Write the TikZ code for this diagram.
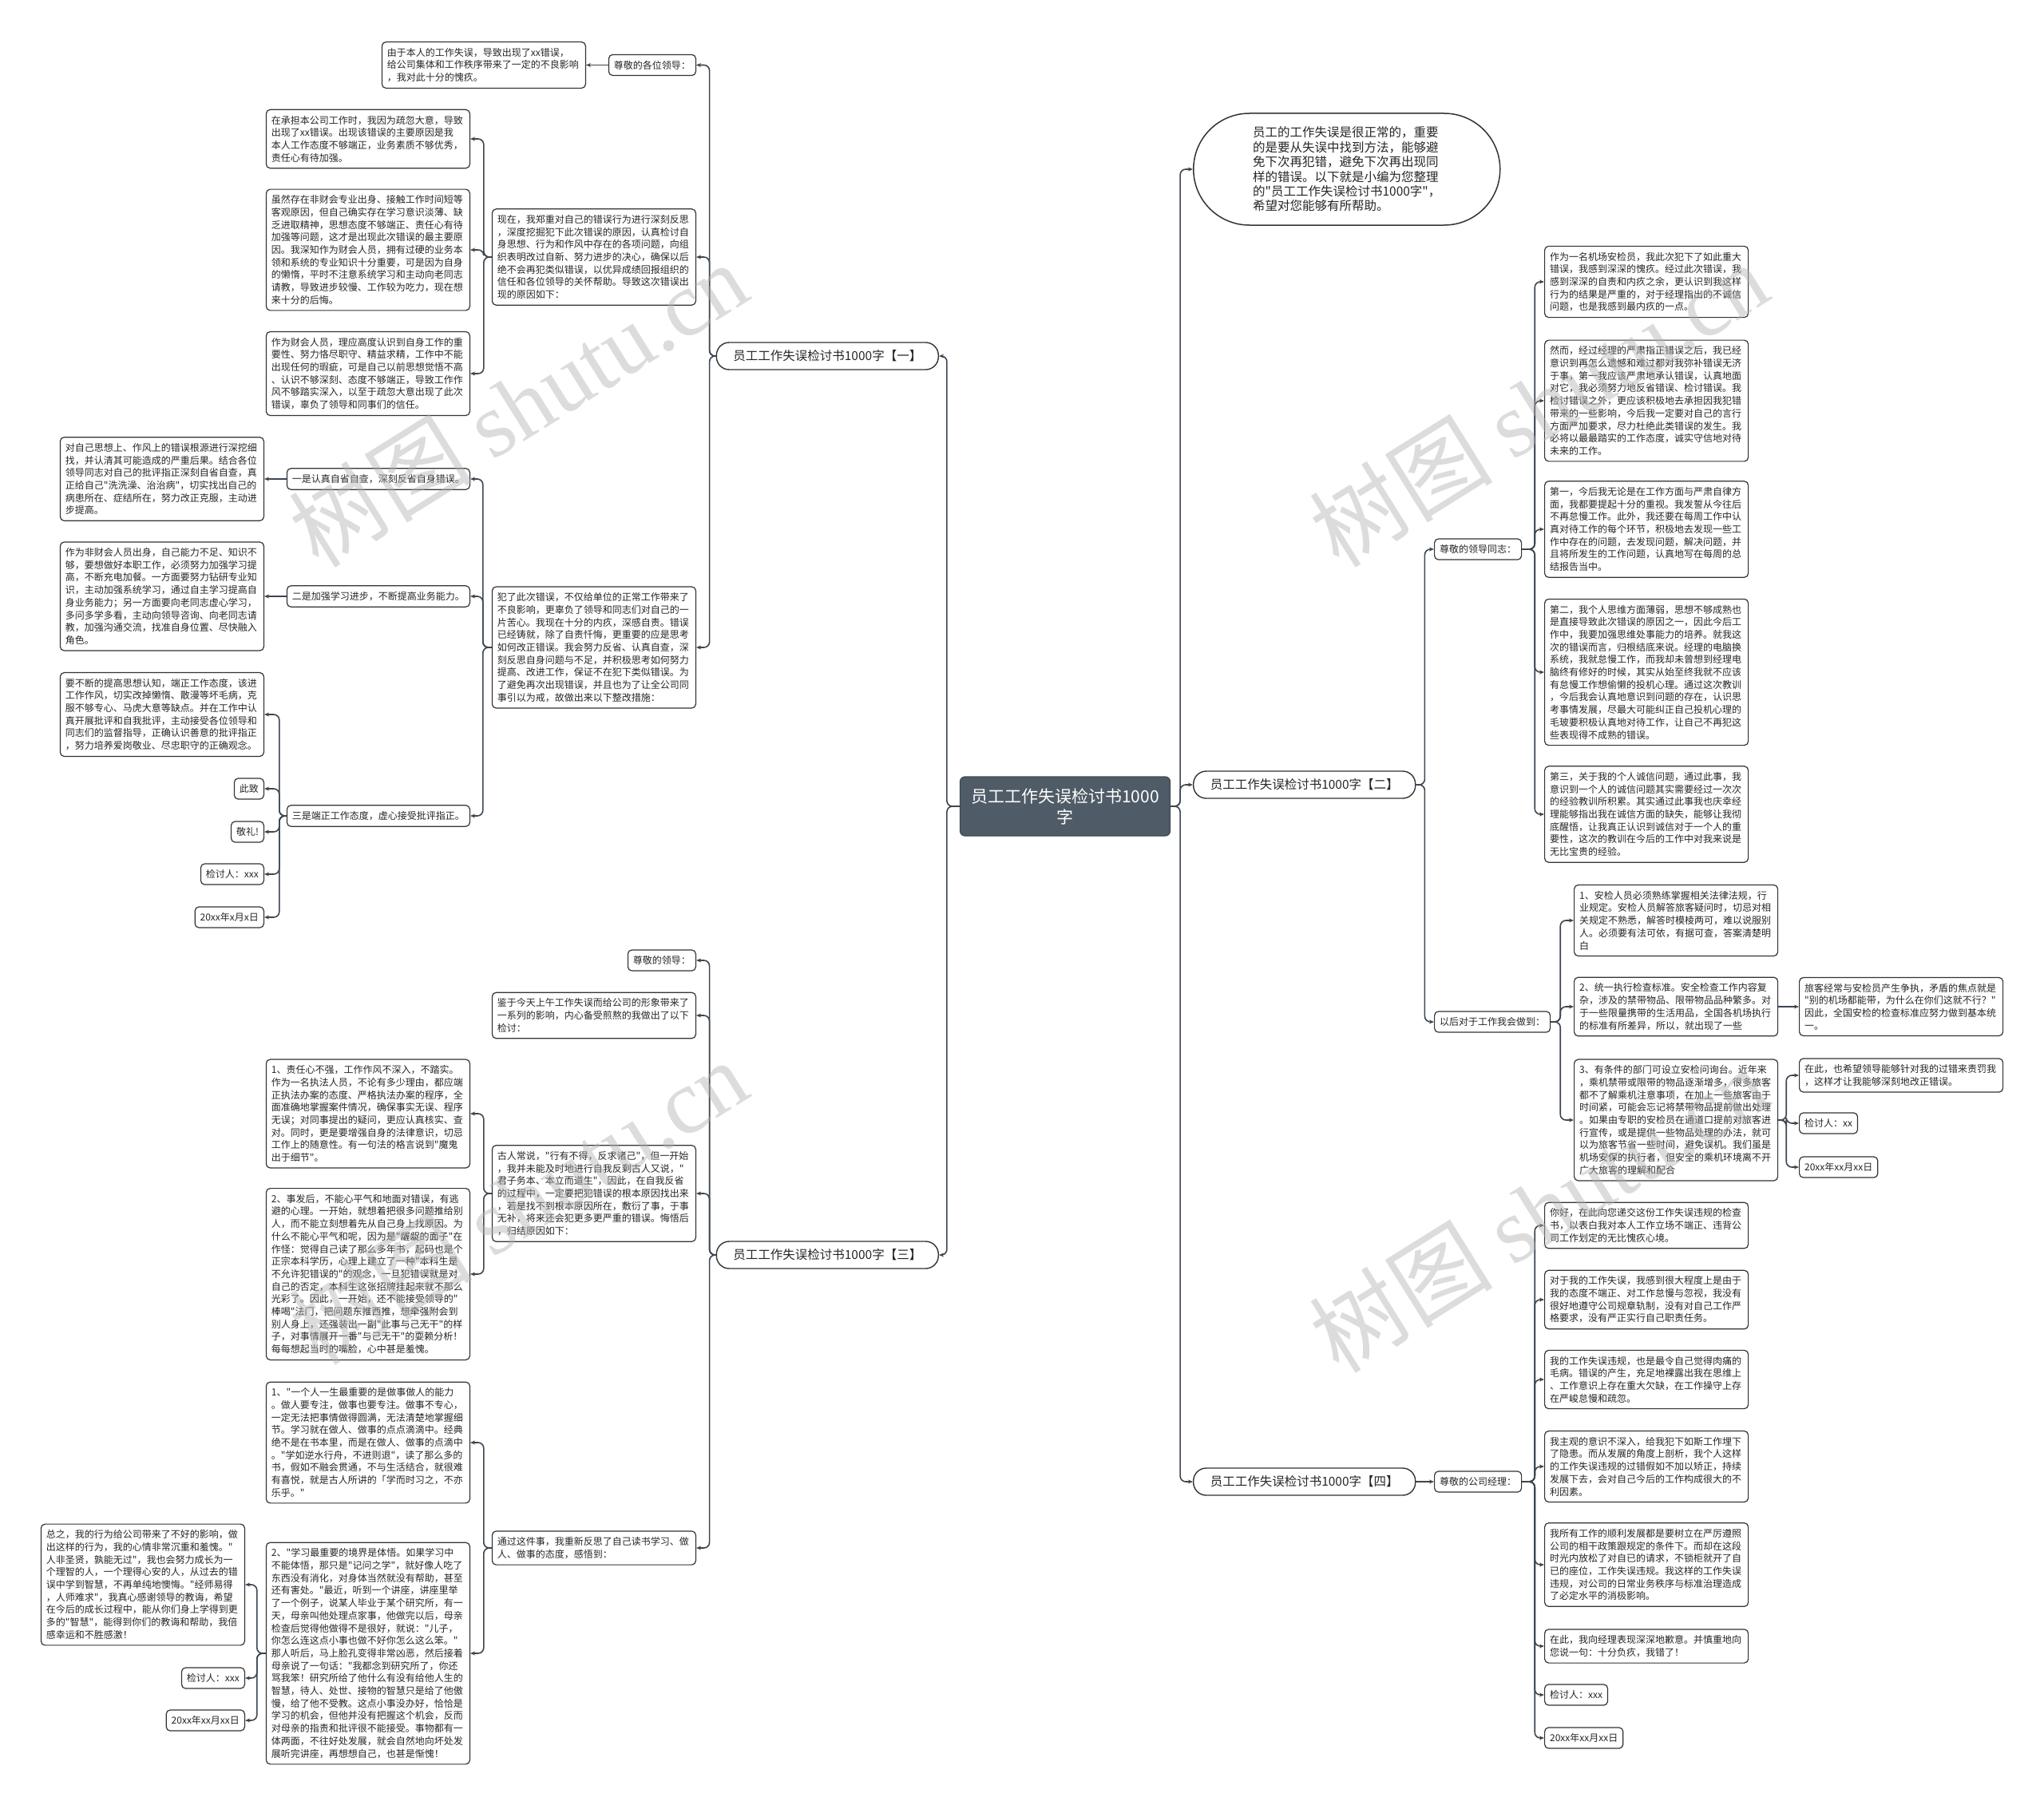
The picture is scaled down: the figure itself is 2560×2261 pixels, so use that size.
\documentclass[tikz,border=0pt]{standalone}
\usepackage{fontspec}
\setmainfont{Noto Sans CJK SC}
\newfontfamily\wmlatin{Liberation Serif}
\usetikzlibrary{arrows.meta}
\definecolor{lc}{HTML}{3C4650}
\definecolor{bc}{HTML}{333333}
\definecolor{cfill}{HTML}{4F5B66}
\font\boxfnt="Noto Sans CJK SC" at 12pt
\font\introfnt="Noto Sans CJK SC" at 15.5pt
\newcommand\boxfont{\boxfnt\baselineskip=15.7pt\relax}
\newcommand\branchfont{\fontsize{15.5}{18.5}\selectfont}
\newcommand\introfont{\introfnt\baselineskip=18.4pt\relax}
\newcommand\cenfont{\fontsize{21}{26}\selectfont}
\tikzset{
  conn/.style={draw=lc, line width=1.6pt, rounded corners=7pt, -{Stealth[length=6pt,width=5pt]}},
  tbox/.style={draw=bc, line width=1.2pt, rounded corners=5pt, fill=white, text width=242pt, align=left, inner xsep=6.5pt, inner ysep=7.5pt, font=\boxfont, text=black!85},
  lbl/.style={draw=bc, line width=1.2pt, rounded corners=5pt, fill=white, inner xsep=6.5pt, inner ysep=7.5pt, font=\boxfont, text=black!85},
  branch/.style={draw=bc, line width=1.4pt, rounded corners=16pt, fill=white, minimum width=278pt, minimum height=34pt, inner sep=2pt, font=\branchfont, text=black!85},
  central/.style={draw=cfill!80!black, line width=1.2pt, rounded corners=6pt, fill=cfill, minimum width=263pt, minimum height=74pt, align=center, font=\cenfont, text=white},
  intro/.style={draw=bc, line width=1.5pt, rounded corners=70pt, fill=white, minimum width=384pt, minimum height=140pt, align=left, font=\introfont, text=black!85},
  wm/.style={text=gray!60, opacity=0.45, rotate=32, font=\fontsize{115}{120}\selectfont}
}
\begin{document}
\begin{tikzpicture}[x=1pt,y=-1pt]
\useasboundingbox (0,0) rectangle (2560,2261);
\fill[white] (0,0) rectangle (2560,2261);

% central
\node[central] (cen) at (1334,1010) {员工工作失误检讨书1000\\字};

% branches
\node[branch, anchor=east] (b1) at (1176,446) {员工工作失误检讨书1000字【一】};
\node[branch, anchor=east] (b3) at (1176,1572) {员工工作失误检讨书1000字【三】};
\node[intro, anchor=west] (intro) at (1494,212) {员工的工作失误是很正常的，重要\\的是要从失误中找到方法，能够避\\免下次再犯错，避免下次再出现同\\样的错误。以下就是小编为您整理\\的"员工工作失误检讨书1000字"，\\希望对您能够有所帮助。};
\node[branch, anchor=west] (b2) at (1494,983) {员工工作失误检讨书1000字【二】};
\node[branch, anchor=west] (b4) at (1494,1856) {员工工作失误检讨书1000字【四】};

% ---------- branch 1 ----------
\node[lbl, anchor=east] (l1) at (872,81.5) {尊敬的各位领导：};
\node[tbox, anchor=east] (a) at (734,81.5) {由于本人的工作失误，导致出现了xx错误，\\给公司集体和工作秩序带来了一定的不良影响\\，我对此十分的愧疚。};
\node[tbox, anchor=east] (e) at (872,322) {现在，我郑重对自己的错误行为进行深刻反思\\，深度挖掘犯下此次错误的原因，认真检讨自\\身思想、行为和作风中存在的各项问题，向组\\织表明改过自新、努力进步的决心，确保以后\\绝不会再犯类似错误，以优异成绩回报组织的\\信任和各位领导的关怀帮助。导致这次错误出\\现的原因如下：};
\node[tbox, anchor=east] (b) at (589,174) {在承担本公司工作时，我因为疏忽大意，导致\\出现了xx错误。出现该错误的主要原因是我\\本人工作态度不够端正，业务素质不够优秀，\\责任心有待加强。};
\node[tbox, anchor=east] (c) at (589,313) {虽然存在非财会专业出身、接触工作时间短等\\客观原因，但自己确实存在学习意识淡薄、缺\\乏进取精神，思想态度不够端正、责任心有待\\加强等问题，这才是出现此次错误的最主要原\\因。我深知作为财会人员，拥有过硬的业务本\\领和系统的专业知识十分重要，可是因为自身\\的懒惰，平时不注意系统学习和主动向老同志\\请教，导致进步较慢、工作较为吃力，现在想\\来十分的后悔。};
\node[tbox, anchor=east] (d) at (589,468) {作为财会人员，理应高度认识到自身工作的重\\要性、努力恪尽职守、精益求精，工作中不能\\出现任何的瑕疵，可是自己以前思想觉悟不高\\、认识不够深刻、态度不够端正，导致工作作\\风不够踏实深入，以至于疏忽大意出现了此次\\错误，辜负了领导和同事们的信任。};
\node[tbox, anchor=east] (i) at (872,811) {犯了此次错误，不仅给单位的正常工作带来了\\不良影响，更辜负了领导和同志们对自己的一\\片苦心。我现在十分的内疚，深感自责。错误\\已经铸就，除了自责忏悔，更重要的应是思考\\如何改正错误。我会努力反省、认真自查，深\\刻反思自身问题与不足，并积极思考如何努力\\提高、改进工作，保证不在犯下类似错误。为\\了避免再次出现错误，并且也为了让全公司同\\事引以为戒，故做出来以下整改措施：};
\node[lbl, anchor=east] (yi) at (589,600) {一是认真自省自查，深刻反省自身错误。};
\node[tbox, anchor=east] (f) at (331,600) {对自己思想上、作风上的错误根源进行深挖细\\找，并认清其可能造成的严重后果。结合各位\\领导同志对自己的批评指正深刻自省自查，真\\正给自己"洗洗澡、治治病"，切实找出自己的\\病患所在、症结所在，努力改正克服，主动进\\步提高。};
\node[lbl, anchor=east] (er) at (589,747) {二是加强学习进步，不断提高业务能力。};
\node[tbox, anchor=east] (g) at (331,747) {作为非财会人员出身，自己能力不足、知识不\\够，要想做好本职工作，必须努力加强学习提\\高，不断充电加餐。一方面要努力钻研专业知\\识，主动加强系统学习，通过自主学习提高自\\身业务能力；另一方面要向老同志虚心学习，\\多问多学多看，主动向领导咨询、向老同志请\\教，加强沟通交流，找准自身位置、尽快融入\\角色。};
\node[lbl, anchor=east] (san) at (589,1022) {三是端正工作态度，虚心接受批评指正。};
\node[tbox, anchor=east] (h) at (331,895) {要不断的提高思想认知，端正工作态度，该进\\工作作风，切实改掉懒惰、散漫等坏毛病，克\\服不够专心、马虎大意等缺点。并在工作中认\\真开展批评和自我批评，主动接受各位领导和\\同志们的监督指导，正确认识善意的批评指正\\，努力培养爱岗敬业、尽忠职守的正确观念。};
\node[lbl, anchor=east] (cz) at (331,988) {此致};
\node[lbl, anchor=east] (jl) at (331,1042) {敬礼!};
\node[lbl, anchor=east] (jt1) at (331,1095) {检讨人：xxx};
\node[lbl, anchor=east] (dt1) at (331,1149) {20xx年x月x日};

% ---------- branch 3 ----------
\node[lbl, anchor=east] (l3) at (872,1203) {尊敬的领导：};
\node[tbox, anchor=east] (j) at (872,1272) {鉴于今天上午工作失误而给公司的形象带来了\\一系列的影响，内心备受煎熬的我做出了以下\\检讨：};
\node[tbox, anchor=east] (m) at (872,1495) {古人常说，"行有不得，反求诸己"，但一开始\\，我并未能及时地进行自我反剩古人又说，"\\君子务本、本立而道生"，因此，在自我反省\\的过程中，一定要把犯错误的根本原因找出来\\，若是找不到根本原因所在，敷衍了事，于事\\无补，将来还会犯更多更严重的错误。悔悟后\\，归结原因如下：};
\node[tbox, anchor=east] (k) at (589,1395) {1、责任心不强，工作作风不深入，不踏实。\\作为一名执法人员，不论有多少理由，都应端\\正执法办案的态度、严格执法办案的程序，全\\面准确地掌握案件情况，确保事实无误、程序\\无误；对同事提出的疑问，更应认真核实、查\\对。同时，更是要增强自身的法律意识，切忌\\工作上的随意性。有一句法的格言说到"魔鬼\\出于细节"。};
\node[tbox, anchor=east] (n) at (589,1596) {2、事发后，不能心平气和地面对错误，有逃\\避的心理。一开始，就想着把很多问题推给别\\人，而不能立刻想着先从自己身上找原因。为\\什么不能心平气和呢，因为是"龌龊的面子"在\\作怪：觉得自己读了那么多年书，起码也是个\\正宗本科学历，心理上建立了一种"本科生是\\不允许犯错误的"的观念，一旦犯错误就是对\\自己的否定，本科生这张招牌挂起来就不那么\\光彩了。因此，一开始，还不能接受领导的"\\棒喝"法门，把问题东推西推，想牵强附会到\\别人身上，还强装出一副"此事与己无干"的样\\子，对事情展开一番"与己无干"的耍赖分析！\\每每想起当时的嘴脸，心中甚是羞愧。};
\node[tbox, anchor=east] (q) at (872,1939) {通过这件事，我重新反思了自己读书学习、做\\人、做事的态度，感悟到：};
\node[tbox, anchor=east] (p) at (589,1807) {1、"一个人一生最重要的是做事做人的能力\\。做人要专注，做事也要专注。做事不专心，\\一定无法把事情做得圆满，无法清楚地掌握细\\节。学习就在做人、做事的点点滴滴中。经典\\绝不是在书本里，而是在做人、做事的点滴中\\。"学如逆水行舟，不进则退"，读了那么多的\\书，假如不融会贯通，不与生活结合，就很难\\有喜悦，就是古人所讲的「学而时习之，不亦\\乐乎。"};
\node[tbox, anchor=east] (r) at (589,2071) {2、"学习最重要的境界是体悟。如果学习中\\不能体悟，那只是"记问之学"，就好像人吃了\\东西没有消化，对身体当然就没有帮助，甚至\\还有害处。"最近，听到一个讲座，讲座里举\\了一个例子，说某人毕业于某个研究所，有一\\天，母亲叫他处理点家事，他做完以后，母亲\\检查后觉得他做得不是很好，就说："儿子，\\你怎么连这点小事也做不好你怎么这么笨。"\\那人听后，马上脸孔变得非常凶恶，然后接着\\母亲说了一句话："我都念到研究所了，你还\\骂我笨！研究所给了他什么有没有给他人生的\\智慧，待人、处世、接物的智慧只是给了他傲\\慢，给了他不受教。这点小事没办好，恰恰是\\学习的机会，但他并没有把握这个机会，反而\\对母亲的指责和批评很不能接受。事物都有一\\体两面，不往好处发展，就会自然地向坏处发\\展听完讲座，再想想自己，也甚是惭愧！};
\node[tbox, anchor=east] (s) at (307,1985) {总之，我的行为给公司带来了不好的影响，做\\出这样的行为，我的心情非常沉重和羞愧。"\\人非圣贤，孰能无过"，我也会努力成长为一\\个理智的人，一个理得心安的人，从过去的错\\误中学到智慧，不再单纯地懊悔。"经师易得\\，人师难求"，我真心感谢领导的教诲，希望\\在今后的成长过程中，能从你们身上学得到更\\多的"智慧"，能得到你们的教诲和帮助，我倍\\感幸运和不胜感激！};
\node[lbl, anchor=east] (jt3) at (307,2102) {检讨人：xxx};
\node[lbl, anchor=east] (dt3) at (307,2155) {20xx年xx月xx日};

% ---------- branch 2 ----------
\node[lbl, anchor=west] (l2a) at (1796,688) {尊敬的领导同志：};
\node[tbox, anchor=west] (t1) at (1934,353) {作为一名机场安检员，我此次犯下了如此重大\\错误，我感到深深的愧疚。经过此次错误，我\\感到深深的自责和内疚之余，更认识到我这样\\行为的结果是严重的，对于经理指出的不诚信\\问题，也是我感到最内疚的一点。};
\node[tbox, anchor=west] (t2) at (1934,502) {然而，经过经理的严肃指正错误之后，我已经\\意识到再怎么遗憾和难过都对我弥补错误无济\\于事，第一我应该严肃地承认错误，认真地面\\对它，我必须努力地反省错误、检讨错误。我\\检讨错误之外，更应该积极地去承担因我犯错\\带来的一些影响，今后我一定要对自己的言行\\方面严加要求，尽力杜绝此类错误的发生。我\\必将以最最踏实的工作态度，诚实守信地对待\\未来的工作。};
\node[tbox, anchor=west] (t3) at (1934,663) {第一，今后我无论是在工作方面与严肃自律方\\面，我都要提起十分的重视。我发誓从今往后\\不再怠慢工作。此外，我还要在每周工作中认\\真对待工作的每个环节，积极地去发现一些工\\作中存在的问题，去发现问题，解决问题，并\\且将所发生的工作问题，认真地写在每周的总\\结报告当中。};
\node[tbox, anchor=west] (t4) at (1934,842) {第二，我个人思维方面薄弱，思想不够成熟也\\是直接导致此次错误的原因之一，因此今后工\\作中，我要加强思维处事能力的培养。就我这\\次的错误而言，归根结底来说。经理的电脑换\\系统，我就怠慢工作，而我却未曾想到经理电\\脑终有修好的时候，其实从始至终我就不应该\\有怠慢工作想偷懒的投机心理。通过这次教训\\，今后我会认真地意识到问题的存在，认识思\\考事情发展，尽最大可能纠正自己投机心理的\\毛玻要积极认真地对待工作，让自己不再犯这\\些表现得不成熟的错误。};
\node[tbox, anchor=west] (t5) at (1934,1020) {第三，关于我的个人诚信问题，通过此事，我\\意识到一个人的诚信问题其实需要经过一次次\\的经验教训所积累。其实通过此事我也庆幸经\\理能够指出我在诚信方面的缺失，能够让我彻\\底醒悟，让我真正认识到诚信对于一个人的重\\要性，这次的教训在今后的工作中对我来说是\\无比宝贵的经验。};
\node[lbl, anchor=west] (l2b) at (1796,1280) {以后对于工作我会做到：};
\node[tbox, anchor=west] (u1) at (1971,1153) {1、安检人员必须熟练掌握相关法律法规，行\\业规定。安检人员解答旅客疑问时，切忌对相\\关规定不熟悉，解答时模棱两可，难以说服别\\人。必须要有法可依，有据可查，答案清楚明\\白};
\node[tbox, anchor=west] (u2) at (1971,1261) {2、统一执行检查标准。安全检查工作内容复\\杂，涉及的禁带物品、限带物品品种繁多。对\\于一些限量携带的生活用品，全国各机场执行\\的标准有所差异，所以，就出现了一些};
\node[tbox, anchor=west] (u2c) at (2253,1261) {旅客经常与安检员产生争执，矛盾的焦点就是\\"别的机场都能带，为什么在你们这就不行？"\\因此，全国安检的检查标准应努力做到基本统\\一。};
\node[tbox, anchor=west] (u3) at (1971,1403) {3、有条件的部门可设立安检问询台。近年来\\，乘机禁带或限带的物品逐渐增多，很多旅客\\都不了解乘机注意事项，在加上一些旅客由于\\时间紧，可能会忘记将禁带物品提前做出处理\\。如果由专职的安检员在通道口提前对旅客进\\行宣传，或是提供一些物品处理的办法，就可\\以为旅客节省一些时间，避免误机。我们虽是\\机场安保的执行者，但安全的乘机环境离不开\\广大旅客的理解和配合};
\node[tbox, anchor=west] (v1) at (2253,1347) {在此，也希望领导能够针对我的过错来责罚我\\，这样才让我能够深刻地改正错误。};
\node[lbl, anchor=west] (v2) at (2253,1407) {检讨人：xx};
\node[lbl, anchor=west] (v3) at (2253,1462) {20xx年xx月xx日};

% ---------- branch 4 ----------
\node[lbl, anchor=west] (l4) at (1796,1856) {尊敬的公司经理：};
\node[tbox, anchor=west] (w1) at (1934,1535) {你好，在此向您递交这份工作失误违规的检查\\书，以表白我对本人工作立场不端正、违背公\\司工作划定的无比愧疚心境。};
\node[tbox, anchor=west] (w2) at (1934,1628) {对于我的工作失误，我感到很大程度上是由于\\我的态度不端正、对工作怠慢与忽视，我没有\\很好地遵守公司规章轨制，没有对自己工作严\\格要求，没有严正实行自己职责任务。};
\node[tbox, anchor=west] (w3) at (1934,1728) {我的工作失误违规，也是最令自己觉得肉痛的\\毛病。错误的产生，充足地裸露出我在思维上\\、工作意识上存在重大欠缺，在工作操守上存\\在严峻怠慢和疏忽。};
\node[tbox, anchor=west] (w4) at (1934,1837) {我主观的意识不深入，给我犯下如斯工作埋下\\了隐患。而从发展的角度上剖析，我个人这样\\的工作失误违规的过错假如不加以矫正，持续\\发展下去，会对自己今后的工作构成很大的不\\利因素。};
\node[tbox, anchor=west] (w5) at (1934,1960) {我所有工作的顺利发展都是要树立在严厉遵照\\公司的相干政策跟规定的条件下。而却在这段\\时光内放松了对自已的请求，不锁柜就开了自\\已的座位，工作失误违规。我这样的工作失误\\违规，对公司的日常业务秩序与标准治理造成\\了必定水平的消极影响。};
\node[tbox, anchor=west] (w6) at (1934,2062) {在此，我向经理表现深深地歉意。并慎重地向\\您说一句：十分负疚，我错了！};
\node[lbl, anchor=west] (w7) at (1934,2123) {检讨人：xxx};
\node[lbl, anchor=west] (w8) at (1934,2177) {20xx年xx月xx日};

% ---------- connectors ----------
\foreach \c in {b1,b3} \draw[conn] (cen.west) -- ++(-16,0) |- (\c.east);
\foreach \c in {intro,b2,b4} \draw[conn] (cen.east) -- ++(12,0) |- (\c.west);
\foreach \c in {l1,e,i} \draw[conn] (b1.west) -- ++(-8,0) |- (\c.east);
\draw[conn] (l1.west) -- (a.east);
\foreach \c in {b,c,d} \draw[conn] (e.west) -- ++(-10,0) |- (\c.east);
\foreach \c in {yi,er,san} \draw[conn] (i.west) -- ++(-11,0) |- (\c.east);
\draw[conn] (yi.west) -- (f.east);
\draw[conn] (er.west) -- (g.east);
\foreach \c in {h,cz,jl,jt1,dt1} \draw[conn] (san.west) -- ++(-9,0) |- (\c.east);
\foreach \c in {l3,j,m,q} \draw[conn] (b3.west) -- ++(-8,0) |- (\c.east);
\foreach \c in {k,n} \draw[conn] (m.west) -- ++(-10,0) |- (\c.east);
\foreach \c in {p,r} \draw[conn] (q.west) -- ++(-10,0) |- (\c.east);
\foreach \c in {s,jt3,dt3} \draw[conn] (r.west) -- ++(-11,0) |- (\c.east);
\foreach \c in {l2a,l2b} \draw[conn] (b2.east) -- ++(11,0) |- (\c.west);
\foreach \c in {t1,t2,t3,t4,t5} \draw[conn] (l2a.east) -- ++(16,0) |- (\c.west);
\foreach \c in {u1,u2,u3} \draw[conn] (l2b.east) -- ++(12,0) |- (\c.west);
\draw[conn] (u2.east) -- (u2c.west);
\foreach \c in {v1,v2,v3} \draw[conn] (u3.east) -- ++(10,0) |- (\c.west);
\draw[conn] (b4.east) -- (l4.west);
\foreach \c in {w1,w2,w3,w4,w5,w6,w7,w8} \draw[conn] (l4.east) -- ++(16,0) |- (\c.west);

% ---------- watermarks ----------
\node[wm] (wm1) at (649,506) {树图 {\wmlatin shutu.cn}};
\node[wm] (wm2) at (649,1505) {树图 {\wmlatin shutu.cn}};
\node[wm] (wm3) at (1927,506) {树图 {\wmlatin shutu.cn}};
\node[wm] (wm4) at (1927,1515) {树图 {\wmlatin shutu.cn}};
\end{tikzpicture}
\end{document}
